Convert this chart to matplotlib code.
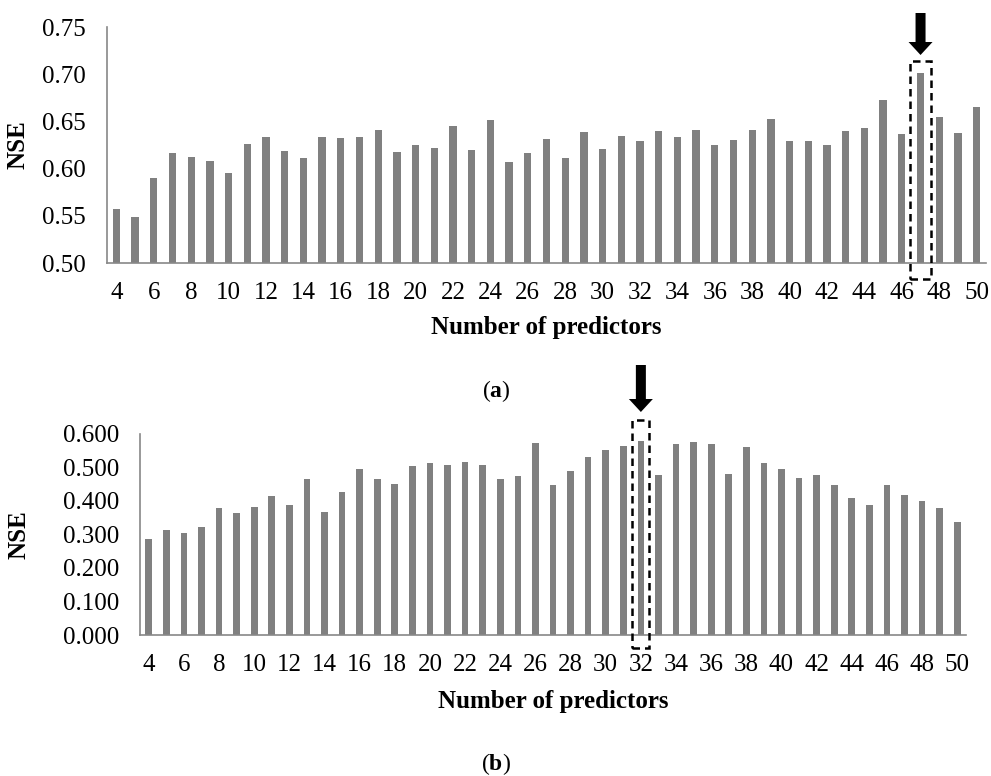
import matplotlib
matplotlib.use("Agg")
import matplotlib.pyplot as plt
from matplotlib.patches import Rectangle, FancyArrow

plt.rcParams['font.family'] = ['Liberation Serif', 'DejaVu Serif']
plt.rcParams['mathtext.fontset'] = 'custom'
plt.rcParams['mathtext.bf'] = 'Liberation Serif:bold'
plt.rcParams['mathtext.rm'] = 'Liberation Serif'

predictors = list(range(4, 51))

nse_a = [0.557, 0.549, 0.590, 0.617, 0.612, 0.608, 0.595, 0.626, 0.634, 0.619,
         0.611, 0.633, 0.632, 0.634, 0.641, 0.618, 0.625, 0.622, 0.645, 0.620,
         0.651, 0.607, 0.616, 0.631, 0.611, 0.639, 0.621, 0.635, 0.629, 0.640,
         0.634, 0.641, 0.625, 0.630, 0.641, 0.653, 0.629, 0.629, 0.625, 0.640,
         0.643, 0.673, 0.637, 0.701, 0.655, 0.638, 0.665]

nse_b = [0.286, 0.313, 0.305, 0.322, 0.380, 0.365, 0.381, 0.416, 0.387, 0.467,
         0.367, 0.427, 0.495, 0.467, 0.451, 0.504, 0.512, 0.506, 0.515, 0.508,
         0.467, 0.475, 0.573, 0.449, 0.489, 0.530, 0.553, 0.565, 0.580, 0.479,
         0.571, 0.577, 0.569, 0.482, 0.562, 0.514, 0.495, 0.469, 0.478, 0.449,
         0.408, 0.388, 0.449, 0.418, 0.399, 0.378, 0.338]

xtick_labels = [str(v) for v in range(4, 51, 2)]
best_a = 47
best_b = 32

W, H = 991, 776
fig = plt.figure(figsize=(W / 100, H / 100), dpi=100)

BAR = '#808080'
SPINE = '#888888'
TICK_FS = 18
LAB_FS = 18


def setup(ax, ylim, yticks, yfmt):
    ax.set_xlim(3.5, 50.5)
    ax.set_ylim(*ylim)
    ax.set_yticks(yticks)
    ax.set_yticklabels([yfmt.format(t) for t in yticks])
    ax.set_xticks(list(range(4, 51, 2)))
    ax.set_xticklabels(xtick_labels)
    for s in ['top', 'right']:
        ax.spines[s].set_visible(False)
    for s in ['left', 'bottom']:
        ax.spines[s].set_color(SPINE)
        ax.spines[s].set_linewidth(1.2)
    ax.tick_params(axis='both', length=0, labelsize=TICK_FS)
    ax.tick_params(axis='y', pad=15)
    ax.tick_params(axis='x', pad=14)


def px_axes(l, t, r, b):
    return fig.add_axes([l / W, 1 - b / H, (r - l) / W, (b - t) / H])


# Panel (a)
ax1 = px_axes(107, 27, 986, 263)
ax1.bar(predictors, nse_a, width=0.39, color=BAR, zorder=2)
setup(ax1, (0.50, 0.75), [0.50, 0.55, 0.60, 0.65, 0.70, 0.75], '{:.2f}')
ax1.set_xlabel('Number of predictors', fontsize=LAB_FS, fontweight='bold')
ax1.set_ylabel('NSE', fontsize=LAB_FS, fontweight='bold')
ax1.yaxis.set_label_coords(-0.0876, 0.5)
ax1.xaxis.set_label_coords(0.5, -0.225)
ax1.add_patch(Rectangle((best_a - 0.55, 0.483), 1.1, 0.714 - 0.483, fill=False,
                        ls=(0, (3, 2)), lw=1.8, ec='black', clip_on=False, zorder=3))

# Panel (b)
ax2 = px_axes(140, 434, 966, 635)
ax2.bar(predictors, nse_b, width=0.38, color=BAR, zorder=2)
setup(ax2, (0.0, 0.6), [0.0, 0.1, 0.2, 0.3, 0.4, 0.5, 0.6], '{:.3f}')
ax2.set_xlabel('Number of predictors', fontsize=LAB_FS, fontweight='bold')
ax2.set_ylabel('NSE', fontsize=LAB_FS, fontweight='bold')
ax2.yaxis.set_label_coords(-0.133, 0.5)
ax2.xaxis.set_label_coords(0.5, -0.275)
ax2.add_patch(Rectangle((best_b - 0.48, -0.039), 0.96, 0.642 + 0.039, fill=False,
                        ls=(0, (3, 2)), lw=1.8, ec='black', clip_on=False, zorder=3))


def arrow(ax, xdata, y_top_px, y_tip_px):
    x_disp = ax.transData.transform((xdata, 0))[0]
    xf = x_disp / W
    ytop = 1 - y_top_px / H
    ytip = 1 - y_tip_px / H
    a = FancyArrow(xf, ytop, 0, ytip - ytop, width=10 / W, head_width=24 / W,
                   head_length=13 / H, length_includes_head=True,
                   transform=fig.transFigure, color='black', lw=0)
    fig.patches.append(a)


fig.canvas.draw()
arrow(ax1, best_a, 13, 55)
arrow(ax2, best_b, 365, 412)

fig.text(496 / W, 1 - 391 / H, r'($\mathbf{a}$)', ha='center', va='center', fontsize=17)
fig.text(496 / W, 1 - 764 / H, r'($\mathbf{b}$)', ha='center', va='center', fontsize=17)

fig.savefig('out.png', dpi=100)
